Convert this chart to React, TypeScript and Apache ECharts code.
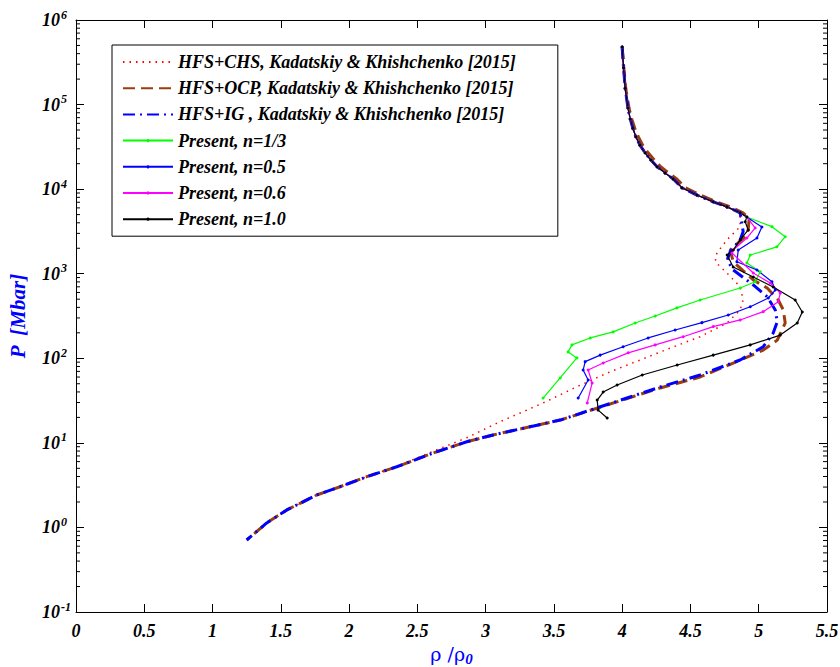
import React, { useEffect, useRef } from "react";
import * as echarts from "echarts";

// Shared upper branch (rho/rho0, P in Mbar)
const topX = [4.0, 4.01, 4.022, 4.042, 4.059, 4.078, 4.1, 4.13, 4.168, 4.21, 4.256, 4.315, 4.374, 4.437, 4.547, 4.667, 4.767, 4.864];
const topP = [478600, 272900, 155600, 91200, 67600, 52500, 41700, 33100, 26900, 22100, 18400, 15500, 13200, 10400, 8510, 7080, 6170, 5250];
// OCP upper branch is drawn slightly to the right
const ocpTopX = [4.0, 4.012, 4.026, 4.05, 4.07, 4.092, 4.118, 4.15, 4.19, 4.235, 4.282, 4.34, 4.4, 4.463, 4.572, 4.69, 4.79, 4.885];

// HFS+CHS
const chsX = [4.864, 4.767, 4.694, 4.681, 4.767, 4.864, 4.886, 4.864, 4.767, 4.571, 4.352, 4.132, 3.912, 3.668, 3.421, 3.106, 2.862, 2.615, 2.349, 2.13, 1.934, 1.763, 1.544, 1.397, 1.25];
const chsP = [3600, 2510, 1758, 1387, 1019, 702, 489, 372, 261, 180, 132, 95.5, 69.3, 46.1, 29.6, 17.8, 11.5, 7.94, 5.25, 3.98, 3.03, 2.42, 1.61, 1.13, 0.71];

// HFS+OCP
const ocpX = [4.93, 4.923, 4.901, 4.791, 4.813, 4.96, 5.062, 5.143, 5.18, 5.194, 5.136, 5.033, 4.813, 4.571, 4.278, 3.546, 3.055, 2.862, 2.615, 2.349, 2.13, 1.934, 1.763, 1.544, 1.397, 1.25];
const ocpP = [4500, 3290, 2740, 1905, 1387, 843, 678, 489, 372, 261, 164, 125, 87.9, 60.1, 44.6, 18.6, 12.4, 10.3, 7.59, 5.22, 3.98, 3.03, 2.42, 1.61, 1.13, 0.71];

// HFS+IG
const igX = [4.886, 4.864, 4.791, 4.769, 4.813, 4.96, 5.062, 5.121, 5.136, 5.106, 5.033, 4.864, 4.571, 4.278, 3.546, 3.055, 2.862, 2.615, 2.349, 2.13, 1.934, 1.763, 1.544, 1.397, 1.25];
const igP = [3160, 2510, 1820, 1452, 1107, 736, 535, 372, 271, 199, 137, 95.5, 63.4, 45.7, 18.6, 12.4, 10.3, 7.59, 5.22, 3.98, 3.03, 2.42, 1.61, 1.13, 0.71];

// Present, n=1/3
const n13X = [4.913, 5.097, 5.194, 5.133, 4.938, 4.913, 5.011, 4.974, 4.864, 4.571, 4.401, 4.242, 4.095, 3.934, 3.766, 3.632, 3.604, 3.668, 3.546, 3.421];
const n13P = [4680, 3600, 2740, 2080, 1663, 1340, 1057, 805, 678, 489, 394, 316, 261, 205, 174, 144, 119, 101, 58.5, 33.9];

// Present, n=0.5
const n05X = [5.023, 4.987, 4.85, 4.84, 4.987, 5.097, 5.121, 5.07, 4.938, 4.777, 4.584, 4.388, 4.19, 4.007, 3.839, 3.729, 3.714, 3.751, 3.678];
const n05P = [3565, 2640, 1905, 1387, 1107, 805, 641, 516, 407, 325, 264, 216, 174, 137, 109, 91.2, 72.6, 55.3, 33.9];

// Present, n=0.6
const n06X = [4.913, 4.974, 4.913, 4.813, 4.804, 4.96, 5.084, 5.158, 5.143, 5.033, 4.864, 4.667, 4.447, 4.242, 4.044, 3.861, 3.751, 3.78, 3.744];
const n06P = [4680, 3475, 2640, 1905, 1758, 1019, 776, 592, 467, 356, 284, 237, 180, 144, 116, 87.9, 72.6, 51.1, 29.6];

// Present, n=1.0
const n10X = [4.913, 4.901, 4.923, 4.864, 4.813, 4.769, 4.813, 4.96, 5.106, 5.267, 5.319, 5.282, 5.158, 4.938, 4.667, 4.403, 4.147, 3.963, 3.861, 3.817, 3.824, 3.89];
const n10P = [4680, 4120, 3290, 2510, 1905, 1663, 1200, 914, 697, 489, 352, 261, 188, 144, 109, 83.2, 63.4, 48.3, 39.9, 32.1, 24.4, 19.7];

const seriesNames = [
  "HFS+CHS, Kadatskiy & Khishchenko [2015]",
  "HFS+OCP, Kadatskiy & Khishchenko [2015]",
  "HFS+IG , Kadatskiy & Khishchenko [2015]",
  "Present, n=1/3",
  "Present, n=0.5",
  "Present, n=0.6",
  "Present, n=1.0",
];

const minorMultipliers = [2, 3, 4, 5, 6, 7, 8, 9];
const decades = [0.1, 1, 10, 100, 1000, 10000, 100000];

const zip = (xs: number[], ys: number[]) => xs.map((x, i) => [x, ys[i]]);

const FONT = "Liberation Serif";

export default function App() {
  const ref = useRef<HTMLDivElement>(null);
  useEffect(() => {
    if (!ref.current) return;
    const chart = echarts.init(ref.current, null, { renderer: "svg" });
    const top = zip(topX, topP);
    const ocpTop = zip(ocpTopX, topP);
    const minorData = decades.flatMap((d) => minorMultipliers.map((m) => [0, m * d]));
    const labelFont = { fontFamily: FONT, fontWeight: "bold" as const, fontStyle: "italic" as const, color: "#000" };
    const presentLine = (name: string, color: string, data: number[][]) => ({
      name,
      type: "line",
      data,
      symbol: "circle",
      symbolSize: 3,
      showSymbol: true,
      itemStyle: { color },
      lineStyle: { color, width: 1.2 },
      emphasis: { disabled: true },
      z: 5,
    });
    const legendData = seriesNames.map((name, i) =>
      i < 3 ? { name, itemStyle: { opacity: 0 } } : { name }
    );
    const option: any = {
      animation: false,
      backgroundColor: "#fff",
      grid: { left: 76, right: 13, top: 20, bottom: 55, containLabel: false, outerBoundsMode: "none" },
      legend: {
        data: legendData,
        orient: "vertical",
        left: 112,
        top: 45,
        itemWidth: 50,
        itemHeight: 4,
        itemGap: 8.2,
        padding: [8, 42, 8, 10],
        borderColor: "#000",
        borderWidth: 1,
        backgroundColor: "#fff",
        textStyle: { ...labelFont, fontSize: 18 },
        selectedMode: false,
      },
      xAxis: [
        {
          type: "value",
          min: 0,
          max: 5.5,
          interval: 0.5,
          position: "bottom",
          name: "{r|\u03c1 /\u03c1}{s|0}",
          nameLocation: "middle",
          nameGap: 27,
          nameTextStyle: {
            rich: {
              r: { fontFamily: "DejaVu Serif", fontSize: 19, color: "#0000ff" },
              s: { fontFamily: FONT, fontWeight: "bold", fontStyle: "italic", fontSize: 15, color: "#0000ff", padding: [0, 0, -10, 0] },
            },
          },
          axisLine: { show: true, onZero: false, lineStyle: { color: "#000", width: 1 } },
          axisTick: { show: true, inside: true, length: 8, lineStyle: { color: "#000" } },
          axisLabel: {
            ...labelFont,
            fontSize: 18,
            margin: 10,
            formatter: (v: number) => String(v),
          },
          splitLine: { show: false },
        },
        {
          type: "value",
          min: 0,
          max: 5.5,
          interval: 0.5,
          position: "top",
          axisLine: { show: true, onZero: false, lineStyle: { color: "#000", width: 1 } },
          axisTick: { show: true, inside: true, length: 8, lineStyle: { color: "#000" } },
          axisLabel: { show: false },
          splitLine: { show: false },
        },
      ],
      yAxis: [
        {
          type: "log",
          logBase: 10,
          min: 0.1,
          max: 1000000,
          position: "left",
          name: "P  [Mbar]",
          nameLocation: "middle",
          nameGap: 48,
          nameRotate: 90,
          nameTextStyle: { fontFamily: FONT, fontWeight: "bold", fontStyle: "italic", fontSize: 21, color: "#0000ff" },
          axisLine: { show: true, onZero: false, lineStyle: { color: "#000", width: 1 } },
          axisTick: { show: true, inside: true, length: 8, lineStyle: { color: "#000" } },
          axisLabel: {
            align: "left",
            margin: 34,
            formatter: (v: number) => {
              const e = Math.round(Math.log10(v));
              return `{b|10}{e|${e < 0 ? "-" + -e : e}}`;
            },
            rich: {
              b: { ...labelFont, fontSize: 18 },
              e: { ...labelFont, fontSize: 12, padding: [0, 0, 11, 1] },
            },
          },
          splitLine: { show: false },
        },
        {
          type: "log",
          logBase: 10,
          min: 0.1,
          max: 1000000,
          position: "right",
          axisLine: { show: true, onZero: false, lineStyle: { color: "#000", width: 1 } },
          axisTick: { show: true, inside: true, length: 8, lineStyle: { color: "#000" } },
          axisLabel: { show: false },
          splitLine: { show: false },
        },
      ],
      series: [
        {
          name: "minor",
          type: "custom",
          silent: true,
          clip: false,
          xAxisIndex: 0,
          yAxisIndex: 0,
          encode: { x: 0, y: 1 },
          data: minorData,
          renderItem: (params: any, api: any) => {
            const v = api.value(1);
            const a = api.coord([0, v]);
            const b = api.coord([5.5, v]);
            return {
              type: "group",
              children: [
                { type: "line", shape: { x1: a[0], y1: a[1], x2: a[0] + 4, y2: a[1] }, style: { stroke: "#000", lineWidth: 1 } },
                { type: "line", shape: { x1: b[0] - 4, y1: b[1], x2: b[0], y2: b[1] }, style: { stroke: "#000", lineWidth: 1 } },
              ],
            };
          },
        },
        {
          name: seriesNames[0],
          type: "line",
          data: top.concat(zip(chsX, chsP)),
          symbol: "none",
          itemStyle: { color: "#ff0000" },
          lineStyle: { color: "#ff0000", width: 1.5, type: [1.5, 5] },
          emphasis: { disabled: true },
          z: 2,
        },
        {
          name: seriesNames[1],
          type: "line",
          data: ocpTop.concat(zip(ocpX, ocpP)),
          symbol: "none",
          itemStyle: { color: "#9c3d0c" },
          lineStyle: { color: "#9c3d0c", width: 3, type: [12, 6] },
          emphasis: { disabled: true },
          z: 3,
        },
        {
          name: seriesNames[2],
          type: "line",
          data: top.concat(zip(igX, igP)),
          symbol: "none",
          itemStyle: { color: "#0000ff" },
          lineStyle: { color: "#0000ff", width: 3, type: [12, 5, 2, 5] },
          emphasis: { disabled: true },
          z: 4,
        },
        presentLine(seriesNames[3], "#00ff00", top.concat(zip(n13X, n13P))),
        presentLine(seriesNames[4], "#0000ff", top.concat(zip(n05X, n05P))),
        presentLine(seriesNames[5], "#ff00ff", top.concat(zip(n06X, n06P))),
        presentLine(seriesNames[6], "#000000", top.concat(zip(n10X, n10P))),
      ],
    };
    chart.setOption(option);
    return () => chart.dispose();
  }, []);
  return (
    <div
      ref={ref}
      style={{ position: "fixed", left: 0, top: 0, width: 840, height: 667, background: "#fff" }}
    />
  );
}
